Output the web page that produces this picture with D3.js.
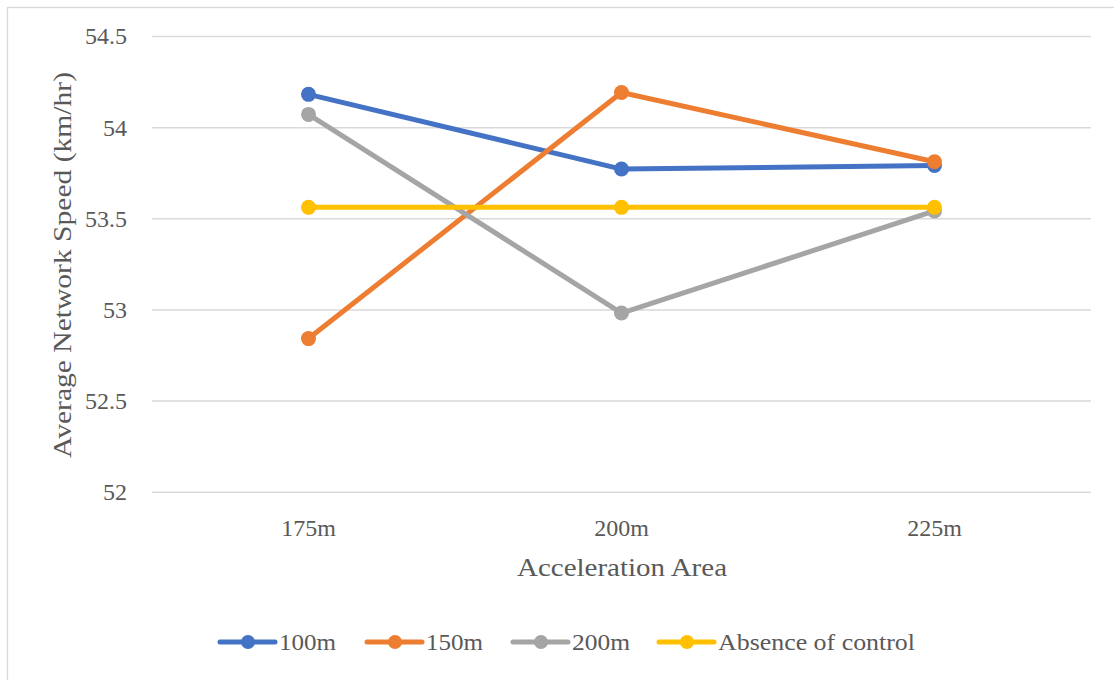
<!DOCTYPE html>
<html>
<head>
<meta charset="utf-8">
<script src="https://cdn.jsdelivr.net/npm/d3@7"></script>
<style>
  html, body { margin: 0; padding: 0; background: #ffffff; }
  svg text { font-family: "Liberation Serif", "Times New Roman", serif; fill: #595959; }
</style>
</head>
<body>
<svg id="chart" width="1114" height="680"></svg>
<script>
const categories = ["175m", "200m", "225m"];
const seriesNames = ["100m", "150m", "200m", "Absence of control"];
const values100 = [54.18, 53.77, 53.79];
const values150 = [52.84, 54.19, 53.81];
const values200 = [54.07, 52.98, 53.54];
const valuesAbsence = [53.56, 53.56, 53.56];
const yTicks = [52, 52.5, 53, 53.5, 54, 54.5];
const colors = ["#4472C4", "#ED7D31", "#A5A5A5", "#FFC000"];
const xTitle = "Acceleration Area";
const yTitle = "Average Network Speed (km/hr)";

const series = [values100, values150, values200, valuesAbsence].map((v, i) => ({
  name: seriesNames[i], color: colors[i], values: v
}));

const svg = d3.select("#chart");

// outer chart border
svg.append("rect")
  .attr("x", 7.5).attr("y", 7.5)
  .attr("width", 1130).attr("height", 700)
  .attr("fill", "none").attr("stroke", "#d9d9d9").attr("stroke-width", 1.3);

const plot = { left: 152, right: 1091, top: 36, bottom: 491.7 };

const x = d3.scaleBand().domain(categories).range([plot.left, plot.right]);
const y = d3.scaleLinear().domain([52, 54.5]).range([plot.bottom, plot.top]);

// gridlines + y tick labels
const yAxis = d3.axisLeft(y).tickValues(yTicks).tickSize(-(plot.right - plot.left))
  .tickFormat(d => d3.format("")(d)).tickPadding(25);
const gy = svg.append("g").attr("transform", `translate(${plot.left},0)`).call(yAxis);
gy.select(".domain").remove();
gy.selectAll(".tick line").attr("stroke", "#d9d9d9").attr("stroke-width", 1.5);
gy.selectAll(".tick text").attr("font-size", "24px").attr("dy", "0.33em")
  .style("font-family", "'Liberation Serif', serif").style("fill", "#595959");

// x axis labels
const xAxis = d3.axisBottom(x).tickSize(0).tickPadding(27);
const gx = svg.append("g").attr("transform", `translate(0,${plot.bottom})`).call(xAxis);
gx.select(".domain").remove();
gx.selectAll(".tick text").attr("font-size", "24px")
  .style("font-family", "'Liberation Serif', serif").style("fill", "#595959");

// axis titles
svg.append("text")
  .attr("x", 622).attr("y", 576)
  .attr("text-anchor", "middle").attr("font-size", "25px")
  .attr("textLength", 210).attr("lengthAdjust", "spacingAndGlyphs")
  .text(xTitle);

svg.append("text")
  .attr("transform", "translate(71,265) rotate(-90)")
  .attr("text-anchor", "middle").attr("font-size", "25px")
  .attr("textLength", 386).attr("lengthAdjust", "spacingAndGlyphs")
  .text(yTitle);

// lines
const line = d3.line()
  .x((d, i) => x(categories[i]) + x.bandwidth() / 2)
  .y(d => y(d));

series.forEach(s => {
  const g = svg.append("g");
  g.append("path")
    .datum(s.values)
    .attr("d", line)
    .attr("fill", "none")
    .attr("stroke", s.color)
    .attr("stroke-width", 5)
    .attr("stroke-linejoin", "round")
    .attr("stroke-linecap", "round");
  g.selectAll("circle")
    .data(s.values)
    .join("circle")
    .attr("cx", (d, i) => x(categories[i]) + x.bandwidth() / 2)
    .attr("cy", d => y(d))
    .attr("r", 7.5)
    .attr("fill", s.color);
});

// legend
const legendY = 642;
const legendX = [220, 367, 513, 659];
const legendTextLen = [57, 57, 58, 197];
series.forEach((s, i) => {
  const g = svg.append("g").attr("transform", `translate(${legendX[i]},${legendY})`);
  g.append("line").attr("x1", 0).attr("x2", 55).attr("y1", 0).attr("y2", 0)
    .attr("stroke", s.color).attr("stroke-width", 5).attr("stroke-linecap", "round");
  g.append("circle").attr("cx", 28).attr("cy", 0).attr("r", 7).attr("fill", s.color);
  g.append("text").attr("x", 59).attr("y", 7.5)
    .attr("font-size", "24px")
    .attr("textLength", legendTextLen[i]).attr("lengthAdjust", "spacingAndGlyphs")
    .text(s.name);
});
</script>
</body>
</html>
